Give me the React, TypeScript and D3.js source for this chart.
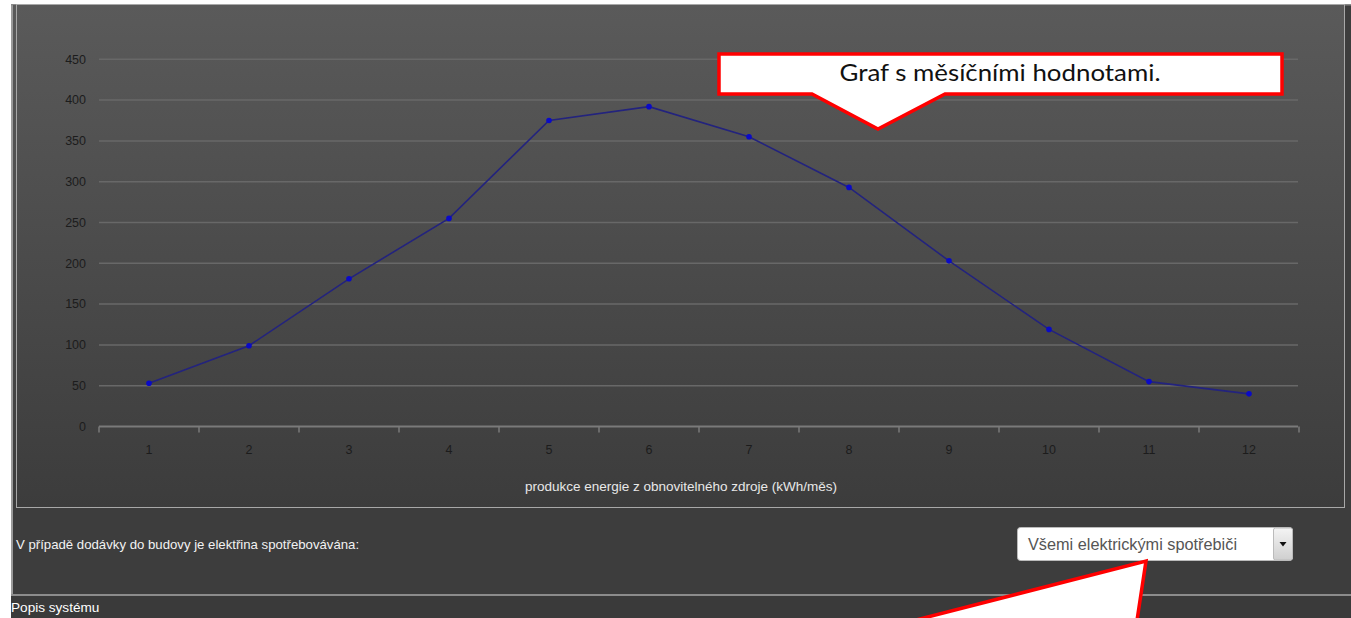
import React from "react";
import * as d3 from "d3";

const months = ["1", "2", "3", "4", "5", "6", "7", "8", "9", "10", "11", "12"];
const production = [53, 99, 181, 255, 375, 392, 355, 293, 203, 119, 55, 40];
const yTicks = [0, 50, 100, 150, 200, 250, 300, 350, 400, 450];
const xTitle = "produkce energie z obnovitelného zdroje (kWh/měs)";
const calloutText = "Graf s měsíčními hodnotami.";
const questionText = "V případě dodávky do budovy je elektřina spotřebovávána:";
const selectText = "Všemi elektrickými spotřebiči";
const footerText = "Popis systému";

export default function App() {
  const W = 1351;
  const H = 618;
  const x = d3.scaleBand<string>().domain(months).range([99, 1299]);
  const y = d3.scaleLinear().domain([0, 450]).range([426.5, 59.3]);
  const line = d3
    .line<number>()
    .x((_, i) => (x(months[i]) as number) + x.bandwidth() / 2)
    .y((d) => y(d));
  const font = "'Liberation Sans', Arial, sans-serif";
  const boundaries = d3.range(months.length + 1).map((i) => 99 + i * x.bandwidth());

  return (
    <svg
      width={W}
      height={H}
      style={{ position: "fixed", left: 0, top: 0, display: "block" }}
    >
      <defs>
        <linearGradient id="panelGrad" x1="0" y1="0" x2="0" y2="1">
          <stop offset="0%" stopColor="#5a5a5a" />
          <stop offset="100%" stopColor="#3c3c3c" />
        </linearGradient>
        <linearGradient id="btnGrad" x1="0" y1="0" x2="0" y2="1">
          <stop offset="0%" stopColor="#f4f4f4" />
          <stop offset="100%" stopColor="#cfcfcf" />
        </linearGradient>
        <clipPath id="pageClip">
          <rect x={0} y={0} width={W} height={H} />
        </clipPath>
      </defs>
      <rect x={0} y={0} width={W} height={H} fill="#ffffff" />
      {/* outer page panel */}
      <rect x={11} y={4} width={W - 11} height={H - 4} fill="#3d3d3d" />
      <rect x={11} y={4} width={2} height={H - 4} fill="#9a9a9a" />
      <rect x={11} y={4} width={W - 11} height={1.5} fill="#8a8a8a" />
      {/* chart panel */}
      <rect x={13} y={5} width={1332} height={503} fill="url(#panelGrad)" />
      <rect
        x={16.5}
        y={4.5}
        width={1328}
        height={503}
        fill="none"
        stroke="#a8a8a8"
        strokeWidth={1}
      />
      {/* gridlines */}
      {yTicks.map((t) => (
        <line
          key={"g" + t}
          x1={99}
          x2={1298}
          y1={y(t)}
          y2={y(t)}
          stroke={t === 0 ? "#7a7a7a" : "#686868"}
          strokeWidth={t === 0 ? 2 : 1.5}
        />
      ))}
      {/* x ticks */}
      {boundaries.map((b, i) => (
        <line
          key={"t" + i}
          x1={b}
          x2={b}
          y1={y(0)}
          y2={y(0) + 6}
          stroke="#7a7a7a"
          strokeWidth={1.5}
        />
      ))}
      {/* y labels */}
      {yTicks.map((t) => (
        <text
          key={"yl" + t}
          x={86}
          y={y(t)}
          dy="0.35em"
          textAnchor="end"
          fontFamily={font}
          fontSize={12.5}
          fill="#1c1c1c"
        >
          {t}
        </text>
      ))}
      {/* x labels */}
      {months.map((m) => (
        <text
          key={"xl" + m}
          x={(x(m) as number) + x.bandwidth() / 2}
          y={450}
          dy="0.35em"
          textAnchor="middle"
          fontFamily={font}
          fontSize={12.5}
          fill="#1c1c1c"
        >
          {m}
        </text>
      ))}
      <text
        x={681}
        y={486}
        dy="0.35em"
        textAnchor="middle"
        fontFamily={font}
        fontSize={13.5}
        fill="#e8e8e8"
      >
        {xTitle}
      </text>
      {/* series */}
      <path d={line(production) || ""} fill="none" stroke="#23237e" strokeWidth={1.6} />
      {production.map((v, i) => (
        <circle
          key={"p" + i}
          cx={(x(months[i]) as number) + x.bandwidth() / 2}
          cy={y(v)}
          r={2.8}
          fill="#0a0ac8"
        />
      ))}
      {/* lower section */}
      <text x={16} y={544} dy="0.35em" fontFamily={font} fontSize={13.2} fill="#f2f2f2">
        {questionText}
      </text>
      <rect x={1017.5} y={527.5} width={275} height={33} rx={3} fill="#ffffff" stroke="#bbbbbb" />
      <rect x={1273.5} y={528} width={19} height={32} rx={2} fill="url(#btnGrad)" stroke="#bbbbbb" />
      <path d="M1279.5,542 L1286.5,542 L1283,546.5 Z" fill="#111" />
      <text x={1028} y={544} dy="0.35em" fontFamily={font} fontSize={16.3} fill="#555555">
        {selectText}
      </text>
      <rect x={11} y={594} width={W - 11} height={2} fill="#8c8c8c" />
      <rect x={11} y={596} width={W - 11} height={22} fill="#3a3a3a" />
      <text x={11} y={607} dy="0.35em" fontFamily={font} fontSize={13.6} fill="#ffffff">
        {footerText}
      </text>
      {/* bottom callout pointer */}
      <g clipPath="url(#pageClip)">
        <path
          d="M1146,561 L1131,660 L760,660 Z"
          fill="#ffffff"
          stroke="#ff0000"
          strokeWidth={3.5}
          strokeLinejoin="miter"
        />
      </g>
      {/* top callout */}
      <path
        d="M719,54 L1282,54 L1282,94 L945,94 L878,129 L812,94 L719,94 Z"
        fill="#ffffff"
        stroke="#ff0000"
        strokeWidth={3.5}
      />
      <text
        x={1000}
        y={73}
        dy="0.35em"
        textAnchor="middle"
        fontFamily="Lato, 'Open Sans', sans-serif"
        fontSize={24}
        textLength={321}
        lengthAdjust="spacingAndGlyphs"
        fill="#111111"
      >
        {calloutText}
      </text>
    </svg>
  );
}
